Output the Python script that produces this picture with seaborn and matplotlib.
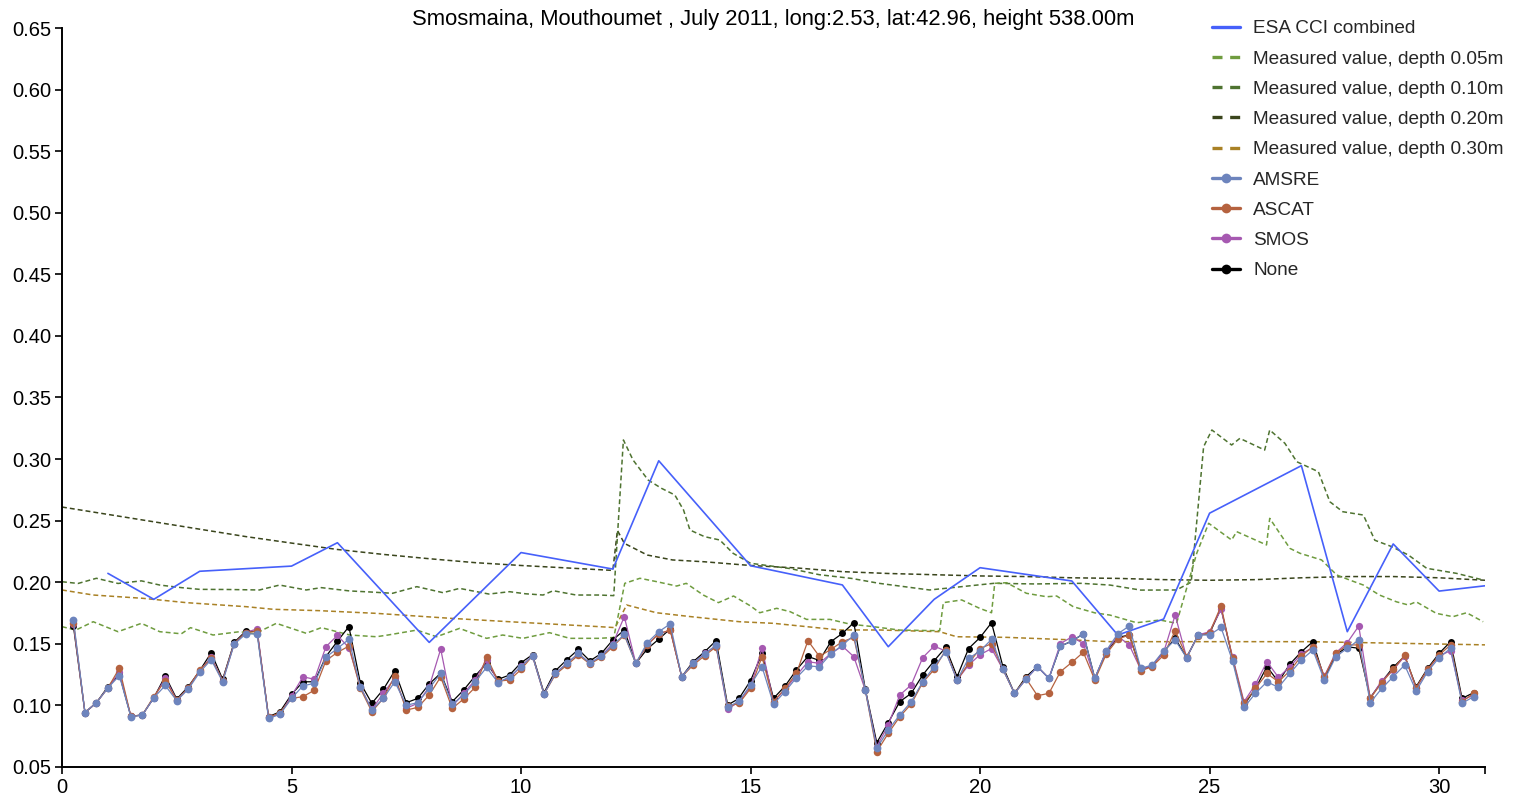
import numpy as np
import pandas as pd
import matplotlib
matplotlib.use("Agg")
import matplotlib.pyplot as plt
import seaborn as sns
from matplotlib.lines import Line2D

sns.set_theme(style="white")
plt.rcParams["font.family"] = ["Liberation Sans", "DejaVu Sans"]

TITLE = "Smosmaina, Mouthoumet , July 2011, long:2.53, lat:42.96, height 538.00m"

# ESA CCI combined (daily product, days with data only)
esa_day = [1, 2, 3, 5, 6, 8, 10, 12, 13, 15, 17, 18, 19, 20, 22, 23, 24, 25, 27, 28, 29, 30, 31]
esa_val = [0.2071, 0.186, 0.2088, 0.213, 0.232, 0.151, 0.224, 0.2106, 0.2986, 0.2133,
           0.1977, 0.1475, 0.186, 0.2117, 0.2009, 0.157, 0.170, 0.256, 0.2946, 0.1597,
           0.231, 0.1927, 0.197]

# In-situ probes
d05_day = [0, 0.3, 0.68, 1.22, 1.73, 2.13, 2.6, 2.8, 3.29, 3.87, 4.2, 4.67, 5.32, 5.65, 6.27,
           6.85, 7.1, 7.73, 8.16, 8.66, 9.25, 9.6, 10.04, 10.62, 11.06, 11.7, 12.02, 12.26,
           12.59, 12.95, 13.39, 13.6, 13.97, 14.3, 14.63, 15.0, 15.2, 15.57, 15.86, 16.22,
           16.73, 17.16, 17.67, 18.25, 19.12, 19.2, 19.6, 19.99, 20.25, 20.32, 20.58, 21.01,
           21.45, 21.67, 22.03, 22.5, 22.83, 23.41, 23.92, 24.28, 24.72, 24.98, 25.48, 25.59,
           26.24, 26.31, 26.75, 26.97, 27.44, 27.77, 28.05, 28.35, 28.7, 29.07, 29.33, 29.5,
           29.94, 30.3, 30.6, 30.96]
d05_val = [0.1638, 0.161, 0.1678, 0.1597, 0.1665, 0.1597, 0.158, 0.163, 0.157, 0.1597, 0.158,
           0.1665, 0.1584, 0.163, 0.157, 0.1556, 0.157, 0.161, 0.1556, 0.1624, 0.1543, 0.157,
           0.1543, 0.1589, 0.1543, 0.1543, 0.155, 0.199, 0.2031, 0.2004, 0.1968, 0.199, 0.1895,
           0.1833, 0.1887, 0.1806, 0.1751, 0.1787, 0.176, 0.1697, 0.1697, 0.1659, 0.1638, 0.161,
           0.1605, 0.1833, 0.1855, 0.1787, 0.1751, 0.199, 0.1995, 0.1909, 0.1881, 0.1887, 0.18,
           0.175, 0.1732, 0.167, 0.1692, 0.1665, 0.2234, 0.2478, 0.2342, 0.241, 0.2302, 0.2518,
           0.2274, 0.2234, 0.218, 0.2058, 0.2017, 0.1976, 0.1895, 0.184, 0.1814, 0.184, 0.1746,
           0.1719, 0.1751, 0.1678]

d10_day = [0, 0.35, 0.75, 1.22, 1.73, 2.13, 2.6, 3.0, 3.6, 4.3, 4.74, 5.32, 5.65, 6.27, 6.7,
           7.2, 7.73, 8.3, 8.66, 9.3, 9.75, 10.1, 10.48, 10.7, 11.2, 11.7, 12.02, 12.23, 12.44,
           12.77, 13.06, 13.35, 13.54, 13.68, 14.0, 14.33, 14.62, 15.0, 15.86, 16.5, 17.2,
           17.8, 18.9, 19.6, 20.3, 21.2, 22.2, 22.83, 23.5, 24.28, 24.6, 24.87, 25.05, 25.48,
           25.66, 26.2, 26.31, 26.64, 26.9, 27.37, 27.62, 27.9, 28.35, 28.6, 28.97, 29.33,
           29.73, 30.38, 30.96]
d10_val = [0.2003, 0.1989, 0.2031, 0.1989, 0.201, 0.1976, 0.1955, 0.1941, 0.194, 0.1936,
           0.1976, 0.1936, 0.1955, 0.1928, 0.192, 0.1909, 0.1963, 0.1914, 0.1949, 0.1903,
           0.1922, 0.1905, 0.1895, 0.193, 0.1895, 0.1895, 0.189, 0.3155, 0.2992, 0.2829,
           0.2762, 0.2708, 0.2586, 0.2423, 0.2369, 0.2342, 0.2234, 0.2153, 0.211, 0.206, 0.203,
           0.199, 0.1936, 0.1963, 0.199, 0.1985, 0.199, 0.1976, 0.1935, 0.1936, 0.2, 0.31,
           0.3236, 0.3114, 0.3168, 0.3073, 0.3236, 0.3128, 0.2978, 0.2897, 0.2653, 0.2572,
           0.2545, 0.234, 0.2288, 0.222, 0.2112, 0.2071, 0.2017]

d20_day = [0, 1, 2, 3, 4, 5, 6, 7, 8, 9, 10, 11, 12, 12.1, 12.25, 12.75, 13.3, 14.0, 15, 16,
           17, 18, 19, 20, 21, 22, 23, 24, 25, 26, 27, 28, 29, 30, 31]
d20_val = [0.261, 0.255, 0.249, 0.243, 0.237, 0.2317, 0.2265, 0.2225, 0.219, 0.2158, 0.2135,
           0.2115, 0.2095, 0.242, 0.2315, 0.222, 0.218, 0.2165, 0.2135, 0.2115, 0.2085, 0.207,
           0.206, 0.205, 0.2045, 0.2035, 0.203, 0.202, 0.2015, 0.202, 0.2035, 0.2045, 0.2045,
           0.2035, 0.2015]

d30_day = [0, 0.68, 1.77, 2.71, 4.02, 4.6, 5.6, 6.85, 8.45, 9.75, 11.7, 12.05, 12.3, 12.95,
           13.68, 14.4, 14.76, 15.5, 16.94, 17.8, 19.12, 19.49, 20.58, 22.03, 22.83, 24.3,
           27.2, 31]
d30_val = [0.1936, 0.1895, 0.1868, 0.1833, 0.18, 0.1779, 0.1768, 0.1746, 0.1706, 0.1678,
           0.1638, 0.163, 0.1814, 0.1751, 0.172, 0.1692, 0.1678, 0.1665, 0.1611, 0.1611,
           0.1597, 0.1556, 0.1551, 0.153, 0.1516, 0.1516, 0.1516, 0.149]

# Satellite retrievals, 6-hourly from day 0.25 to day 30.75 (four values per row = one day)
amsre = [0.169, 0.094, 0.102, 0.114,
         0.124, 0.0906, 0.092, 0.106,
         0.116, 0.1036, 0.113, 0.1267,
         0.137, 0.119, 0.1494, 0.1578,
         0.158, 0.0893, 0.0925, 0.1055,
         0.1158, 0.1177, 0.139, 0.1461,
         0.1535, 0.115, 0.096, 0.1055,
         0.119, 0.100, 0.102, 0.1136,
         0.1258, 0.1006, 0.1082, 0.119,
         0.1307, 0.1183, 0.1231, 0.1313,
         0.140, 0.109, 0.1258, 0.134,
         0.142, 0.134, 0.1399, 0.1488,
         0.1575, 0.134, 0.1508, 0.1597,
         0.166, 0.1231, 0.134, 0.1416,
         0.1488, 0.0982, 0.1034, 0.1164,
         0.1313, 0.1009, 0.111, 0.1223,
         0.1318, 0.1313, 0.1416, 0.1488,
         0.1567, 0.1123, 0.0649, 0.0798,
         0.092, 0.1028, 0.119, 0.1313,
         0.1434, 0.1204, 0.138, 0.144,
         0.1535, 0.129, 0.1096, 0.121,
         0.1313, 0.1218, 0.148, 0.152,
         0.158, 0.1218, 0.1443, 0.158,
         0.1643, 0.1299, 0.1326, 0.1443,
         0.1529, 0.1386, 0.157, 0.157,
         0.1632, 0.1359, 0.0982, 0.1096,
         0.119, 0.1145, 0.1258, 0.1367,
         0.1448, 0.1204, 0.1394, 0.1462,
         0.1529, 0.102, 0.1136, 0.1231,
         0.1326, 0.1115, 0.1272, 0.1386,
         0.1462, 0.1015, 0.1069]
ascat = [0.167, 0.094, 0.102, 0.114,
         0.130, 0.091, 0.092, 0.107,
         0.120, 0.104, 0.114, 0.1285,
         0.138, 0.120, 0.150, 0.159,
         0.160, 0.090, 0.094, 0.1055,
         0.1069, 0.1122, 0.1362, 0.1429,
         0.148, 0.1136, 0.0947, 0.1055,
         0.1237, 0.096, 0.0982, 0.1082,
         0.123, 0.0974, 0.105, 0.1145,
         0.1394, 0.1196, 0.1204, 0.129,
         0.140, 0.109, 0.125, 0.1326,
         0.1407, 0.1335, 0.1388, 0.1475,
         0.157, 0.134, 0.149, 0.158,
         0.161, 0.1231, 0.1326, 0.1402,
         0.1475, 0.099, 0.1015, 0.1136,
         0.1394, 0.1028, 0.1136, 0.1258,
         0.1524, 0.1396, 0.1453, 0.1516,
         0.155, 0.1123, 0.0622, 0.0771,
         0.0906, 0.1009, 0.1183, 0.129,
         0.1448, 0.1204, 0.134, 0.146,
         0.150, 0.129, 0.1096, 0.1218,
         0.1077, 0.1096, 0.1272, 0.1348,
         0.143, 0.1204, 0.1416, 0.1537,
         0.157, 0.128, 0.1313, 0.1407,
         0.1605, 0.1394, 0.1562, 0.1589,
         0.1806, 0.138, 0.1015, 0.1136,
         0.1258, 0.119, 0.128, 0.1399,
         0.1475, 0.1231, 0.1421, 0.1489,
         0.149, 0.1055, 0.1183, 0.129,
         0.1407, 0.1142, 0.129, 0.1407,
         0.149, 0.1028, 0.1096]
smos = [0.166, 0.094, 0.102, 0.114,
        0.127, 0.091, 0.092, 0.106,
        0.122, 0.104, 0.114, 0.128,
        0.139, 0.120, 0.150, 0.159,
        0.162, 0.090, 0.093, 0.1075,
        0.1231, 0.121, 0.1475, 0.1567,
        0.1467, 0.115, 0.0965, 0.1096,
        0.122, 0.0975, 0.1015, 0.115,
        0.1456, 0.099, 0.1096, 0.1204,
        0.137, 0.119, 0.122, 0.1318,
        0.140, 0.109, 0.126, 0.134,
        0.142, 0.134, 0.140, 0.150,
        0.1719, 0.134, 0.149, 0.158,
        0.161, 0.1231, 0.134, 0.142,
        0.148, 0.0966, 0.103, 0.115,
        0.1462, 0.1028, 0.1128, 0.124,
        0.1353, 0.134, 0.142, 0.148,
        0.1394, 0.1123, 0.0663, 0.0839,
        0.1082, 0.1164, 0.1386, 0.148,
        0.144, 0.1204, 0.1326, 0.141,
        0.146, 0.129, 0.1096, 0.121,
        0.1313, 0.1218, 0.150, 0.1555,
        0.150, 0.1218, 0.144, 0.156,
        0.1489, 0.129, 0.132, 0.143,
        0.1732, 0.1386, 0.157, 0.1597,
        0.1778, 0.1394, 0.1028, 0.1169,
        0.1353, 0.1226, 0.1313, 0.1416,
        0.147, 0.1236, 0.1426, 0.1508,
        0.1643, 0.1055, 0.1199, 0.1285,
        0.1399, 0.1136, 0.129, 0.1399,
        0.1443, 0.1042, 0.108]
combined_none = [0.164, 0.094, 0.102, 0.115,
                 0.125, 0.091, 0.092, 0.106,
                 0.1237, 0.105, 0.115, 0.128,
                 0.1426, 0.121, 0.151, 0.160,
                 0.160, 0.0906, 0.0947, 0.1088,
                 0.119, 0.119, 0.1395, 0.152,
                 0.1638, 0.118, 0.1015, 0.1128,
                 0.128, 0.102, 0.1055, 0.1172,
                 0.126, 0.1028, 0.1123, 0.1237,
                 0.134, 0.121, 0.1245, 0.1345,
                 0.141, 0.110, 0.128, 0.137,
                 0.1453, 0.136, 0.142, 0.153,
                 0.1611, 0.134, 0.1457, 0.1536,
                 0.162, 0.1231, 0.1353, 0.1434,
                 0.1524, 0.1001, 0.1055, 0.1199,
                 0.142, 0.1055, 0.1155, 0.1286,
                 0.1396, 0.1363, 0.1516, 0.1583,
                 0.167, 0.113, 0.0695, 0.0858,
                 0.1028, 0.1096, 0.1245, 0.1361,
                 0.1469, 0.1231, 0.146, 0.155,
                 0.167, 0.131, 0.1096, 0.1231,
                 0.1313, 0.1218, 0.148, 0.152,
                 0.158, 0.1218, 0.1434, 0.155,
                 0.157, 0.129, 0.132, 0.1434,
                 0.1543, 0.1386, 0.157, 0.1583,
                 0.1787, 0.138, 0.1001, 0.1136,
                 0.1313, 0.119, 0.1334, 0.1434,
                 0.1516, 0.1218, 0.1407, 0.1475,
                 0.1462, 0.1061, 0.119, 0.1307,
                 0.1399, 0.115, 0.1299, 0.1421,
                 0.1516, 0.1055, 0.1101]

sat_day = 0.25 * np.arange(1, len(amsre) + 1)

C_ESA = "#4660fa"
C_D05 = "#6f9c3f"
C_D10 = "#4e7330"
C_D20 = "#3a451c"
C_D30 = "#a98125"
C_AMSRE = "#6d84bd"
C_ASCAT = "#b5623f"
C_SMOS = "#a659b1"
C_NONE = "#000000"

fig = plt.figure(figsize=(15.19, 7.98), dpi=100)
ax = fig.add_axes([62 / 1519, 31.3 / 798, (1485 - 62) / 1519, (766.7 - 28.3) / 798])

DASH = (3.2, 2.0)
for day, val, col in [(d20_day, d20_val, C_D20), (d10_day, d10_val, C_D10),
                      (d30_day, d30_val, C_D30), (d05_day, d05_val, C_D05)]:
    sns.lineplot(x=day, y=val, ax=ax, color=col, lw=1.1, sort=False, errorbar=None)
    ax.lines[-1].set_dashes(DASH)

sns.lineplot(x=esa_day, y=esa_val, ax=ax, color=C_ESA, lw=1.2, sort=False, errorbar=None)

for vals, col, ms in [(combined_none, C_NONE, 5.0), (smos, C_SMOS, 5.2),
                      (ascat, C_ASCAT, 5.4), (amsre, C_AMSRE, 5.6)]:
    sns.lineplot(x=sat_day, y=vals, ax=ax, color=col, lw=0.9, marker="o",
                 markersize=ms, markeredgewidth=0, sort=False, errorbar=None)

ax.set_xlim(0, 31)
ax.set_ylim(0.05, 0.65)
ax.set_xticks([0, 5, 10, 15, 20, 25, 30])
ax.set_xticks([31], minor=True)
ax.set_yticks(np.round(np.arange(0.05, 0.651, 0.05), 2))
ax.yaxis.set_major_formatter(matplotlib.ticker.FormatStrFormatter("%.2f"))
ax.tick_params(axis="both", which="both", direction="out", length=5, width=1.2,
               color="black", labelsize=14.5, labelcolor="black", pad=3,
               bottom=True, left=True)
ax.set_xlabel("")
ax.set_ylabel("")
for side in ("top", "right"):
    ax.spines[side].set_visible(False)
for side in ("left", "bottom"):
    ax.spines[side].set_color("black")
    ax.spines[side].set_linewidth(1.4)
ax.grid(False)

fig.text(773 / 1519, 1 - 20 / 798, TITLE, ha="center", va="center", fontsize=15.8, color="black")

LEG_DASH = (3.0, 2.3)
handles = [
    Line2D([], [], color=C_ESA, lw=2.4),
    Line2D([], [], color=C_D05, lw=2.4, dashes=LEG_DASH),
    Line2D([], [], color=C_D10, lw=2.4, dashes=LEG_DASH),
    Line2D([], [], color=C_D20, lw=2.4, dashes=LEG_DASH),
    Line2D([], [], color=C_D30, lw=2.4, dashes=LEG_DASH),
    Line2D([], [], color=C_AMSRE, lw=2.4, marker="o", markersize=7, markeredgewidth=0),
    Line2D([], [], color=C_ASCAT, lw=2.4, marker="o", markersize=7, markeredgewidth=0),
    Line2D([], [], color=C_SMOS, lw=2.4, marker="o", markersize=7, markeredgewidth=0),
    Line2D([], [], color=C_NONE, lw=2.4, marker="o", markersize=7, markeredgewidth=0),
]
labels = ["ESA CCI combined", "Measured value, depth 0.05m", "Measured value, depth 0.10m",
          "Measured value, depth 0.20m", "Measured value, depth 0.30m", "AMSRE", "ASCAT",
          "SMOS", "None"]
fig.legend(handles, labels, loc="upper left", bbox_to_anchor=(1212 / 1519, 1 - 20 / 798),
           frameon=False, fontsize=13.7, handlelength=1.45, handletextpad=0.72,
           labelspacing=0.68, borderpad=0, borderaxespad=0)

fig.savefig("out.png", dpi=100, facecolor="white")
